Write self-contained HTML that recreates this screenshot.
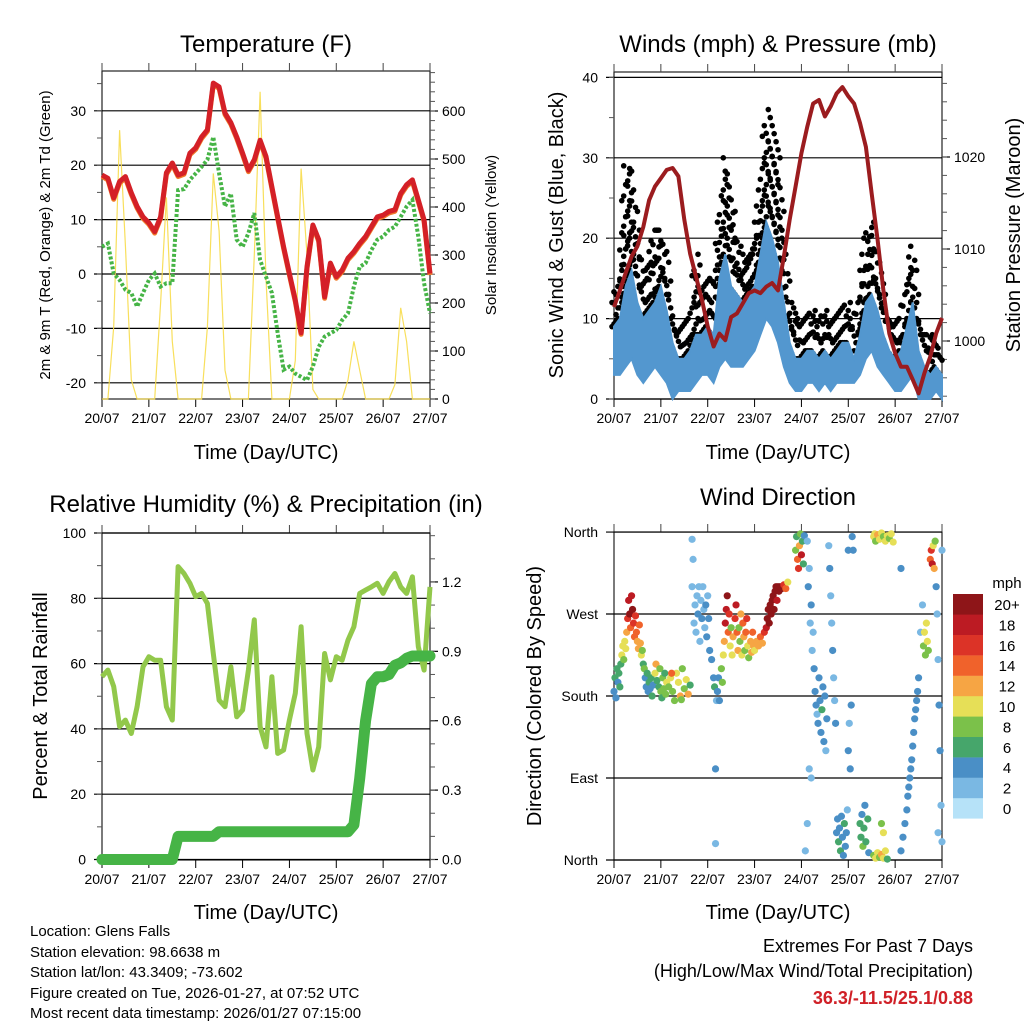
<!DOCTYPE html>
<html><head><meta charset="utf-8">
<style>
html,body{margin:0;padding:0;background:#fff;}
svg{display:block;font-family:"Liberation Sans",sans-serif;}
</style></head>
<body>
<svg id="chart" width="1024" height="1024" viewBox="0 0 1024 1024" xmlns="http://www.w3.org/2000/svg">
<rect x="0" y="0" width="1024" height="1024" fill="#fff"/>
<text x="266" y="52" font-size="24" text-anchor="middle">Temperature (F)</text>
<text x="778" y="52" font-size="24" text-anchor="middle">Winds (mph) &amp; Pressure (mb)</text>
<text x="266" y="512" font-size="24" text-anchor="middle">Relative Humidity (%) &amp; Precipitation (in)</text>
<text x="778" y="505" font-size="24" text-anchor="middle">Wind Direction</text>
<text x="266" y="459" font-size="20" text-anchor="middle">Time (Day/UTC)</text>
<text x="778" y="459" font-size="20" text-anchor="middle">Time (Day/UTC)</text>
<text x="266" y="919" font-size="20" text-anchor="middle">Time (Day/UTC)</text>
<text x="778" y="919" font-size="20" text-anchor="middle">Time (Day/UTC)</text>
<text transform="translate(50,235) rotate(-90)" font-size="15" text-anchor="middle">2m &amp; 9m T (Red, Orange) &amp; 2m Td (Green)</text>
<text transform="translate(496,235) rotate(-90)" font-size="15" text-anchor="middle">Solar Insolation (Yellow)</text>
<text transform="translate(563,235) rotate(-90)" font-size="20" text-anchor="middle">Sonic Wind &amp; Gust (Blue, Black)</text>
<text transform="translate(1020,235) rotate(-90)" font-size="20" text-anchor="middle">Station Pressure (Maroon)</text>
<text transform="translate(47,696) rotate(-90)" font-size="20" text-anchor="middle">Percent &amp; Total Rainfall</text>
<text transform="translate(541,696) rotate(-90)" font-size="20" text-anchor="middle">Direction (Colored By Speed)</text>
<g font-size="15">
<text x="30" y="936">Location: Glens Falls</text>
<text x="30" y="957">Station elevation: 98.6638 m</text>
<text x="30" y="977">Station lat/lon: 43.3409; -73.602</text>
<text x="30" y="998">Figure created on Tue, 2026-01-27, at 07:52 UTC</text>
<text x="30" y="1018">Most recent data timestamp: 2026/01/27 07:15:00</text>
</g>
<g text-anchor="end">
<text x="973" y="952" font-size="18">Extremes For Past 7 Days</text>
<text x="973" y="977" font-size="18">(High/Low/Max Wind/Total Precipitation)</text>
<text x="973" y="1004" font-size="18" font-weight="bold" fill="#d02027">36.3/-11.5/25.1/0.88</text>
</g>
<text x="1007" y="588" font-size="15" text-anchor="middle">mph</text>
</svg>
<script>
// ===== data (3-hour samples, hours 0..168) =====
const dayLabels = ['20/07','21/07','22/07','23/07','24/07','25/07','26/07','27/07'];
const sampleHours = [0,3,6,9,12,15,18,21,24,27,30,33,36,39,42,45,48,51,54,57,60,63,66,69,72,75,78,81,84,87,90,93,96,99,102,105,108,111,114,117,120,123,126,129,132,135,138,141,144,147,150,153,156,159,162,165,168];
const temp2m = [18.2,17.6,14,17,17.9,14.9,12.4,10.5,9.4,7.8,10.5,18.6,20.4,18.2,18.6,22.2,23.2,25.2,26.5,35.1,34.4,29.6,27.8,25.2,22.2,19.1,21,24.6,21.6,16,10.5,5,0.1,-4.8,-10.8,1.3,9,6.3,-4.2,2,-0.5,0.7,2.9,4.1,5.6,6.9,8.7,10.5,10.8,11.5,11.8,14.8,16.4,17.3,13.6,9.9,0.1];
const dewpoint = [5,5.6,0.1,-1.1,-2.9,-3.5,-6,-3.5,-1.1,0.1,-2.3,-1.7,-1.7,15.4,15.6,17.3,18.5,19.7,21,25.2,18.5,12.4,14.8,6.3,5,7.5,11.2,2.6,-0.5,-3.5,-10.9,-17.6,-17,-18.3,-18.9,-19.5,-17,-13.4,-11.5,-10.9,-10.3,-8.5,-7.2,-2.3,1.3,2,4.4,6.3,6.9,8.1,8.7,10.5,12.4,13.6,6.9,-1.7,-7.2];
const solar = [0,0,150,560,320,40,0,0,0,0,200,420,120,0,0,0,0,0,150,470,350,60,0,0,0,0,300,640,250,0,0,0,0,80,480,300,20,0,0,0,0,0,40,120,60,0,0,0,0,0,30,190,120,0,0,0,0];
const windLo = [3,3,4,5,3,2,3,4,3,2,0,1,1,1,2,3,3,2,4,5,4,4,4,5,6,8,10,9,7,4,2,1,1,2,2,1,2,1,2,2,2,2,3,5,6,4,3,2,1,1,2,3,0,0,0,1,0];
const windHi = [9,10,14,16,12,10,11,12,14,11,7,5,5,6,8,8,9,8,15,18,14,13,12,13,14,18,22,20,17,12,7,5,5,6,6,5,6,5,6,7,7,5,8,12,13,11,8,6,5,6,9,12,6,4,3,4,3];
const gustHi = [12,16,29,28,21,16,17,21,21,17,10,8,9,10,18,14,15,14,22,30,25,20,17,18,20,26,36,33,30,20,12,10,9,10,11,9,11,9,10,11,12,9,14,20,22,17,13,10,9,10,15,19,10,8,8,7,6];
const pressure = [1003.7,1005.5,1007.4,1009.2,1010.3,1012.4,1015.3,1016.8,1017.7,1018.6,1018.8,1017.9,1013.2,1009.5,1007,1004.5,1001.6,999.4,1000.8,1000.1,1002.6,1003,1004.1,1005.2,1005.5,1005.2,1005.9,1006.3,1005.5,1009.2,1013.2,1016.8,1020.4,1023.3,1025.8,1026.2,1024.4,1025.5,1026.9,1027.6,1026.6,1025.8,1023.7,1021.1,1016,1011,1005.5,1000.8,998.7,997.2,997.2,995.8,994.3,996.5,998.3,1000.8,1002.5];
const humidity = [56,58,53,40.7,42.7,38.6,46.8,59,62.1,61,61,46.8,42.7,89.7,87.6,84.6,80.5,81.5,78.4,63.1,48.8,46.8,59,43.7,45.8,58,73.4,40.7,34.5,56,32.5,33.5,42.7,50.9,71.3,38.6,27.4,34.5,63.1,55,62.1,61,67.2,71.3,81.5,82.5,83.5,84.6,81.5,85.1,87.6,83.5,81.5,86.6,65.2,58,83.5];
const precip = [0,0,0,0,0,0,0,0,0,0,0,0,0,0.1,0.1,0.1,0.1,0.1,0.1,0.1,0.12,0.12,0.12,0.12,0.12,0.12,0.12,0.12,0.12,0.12,0.12,0.12,0.12,0.12,0.12,0.12,0.12,0.12,0.12,0.12,0.12,0.12,0.12,0.15,0.35,0.6,0.76,0.79,0.79,0.8,0.84,0.85,0.87,0.88,0.88,0.88,0.88];
// wind direction observations (parallel arrays, one line per cluster)
const dirHours = [
0,0.5,1,1.5,2,2.5,3,3.5,4,4.5,5,5.5,6,
6.5,7,7.5,8,8.5,9,9.5,10,10.5,11,11.5,12,12.5,13,13.5,14,14.5,
15,15.5,16,16.5,17,17.5,18,18.5,19,19.5,20,21,21.5,22,23,23.5,24,24.5,25,25.5,26,26.5,27,
28,29,30,31,32,33,34,35,36,37,38,39,29.5,34.5,
40,40.5,41,41.5,42,42.5,43,43.5,44,44.5,45,45.5,46,46.5,47,47.5,48,48.5,49,50,
40,52,52,51,51.5,52.5,53,53.5,54,
55,55.5,56,56.5,57,57.5,58,58.5,59,59.5,60,60.5,61,62,62.5,63,
63.5,64,64.5,65,65.5,66,66.5,67,67.5,68,68.5,69,70,70.5,71,71.5,72,73,74,75,76,
77,78,78.5,79,79.5,80,80.5,81,81.5,82,82.5,83,83.5,84,84.5,85,86,87,88,89,
93,93.5,94,94.5,95,95.5,96,96.5,97,97.5,
99,99.5,100,100.5,101,101.5,102,102.5,103,103.5,104,104.5,105,105.5,106,106.5,107,107.5,108,108.5,109,100,101,98,99,
110,110.5,111,111.5,112,112.5,113,113.5,114,114.5,115,115.5,116,116.5,117,117.5,118,118.5,119,119.5,120,120.5,121,121.5,122,122.5,120,
126,126.5,127,127.5,128,128.5,129,130,130.5,
133,133.5,134,135,136,137,138,139,140,141,142,143,133,134,135,136,137,138,139,140,137,138,
148,149,150,150.5,151,151.5,152,152.5,153,153.5,154,154.5,155,155.5,156,147,147,157,158,
158.5,159,159.5,160,160.5,161,
162,162.5,163,163.5,164,164.5,
165,165.5,166,166.5,167,167.5,168,168,166];
const dirDegrees = [
185,200,178,210,195,205,190,215,225,235,220,240,232,
250,265,285,270,255,290,275,260,245,268,250,240,232,258,238,225,230,
215,210,200,190,205,185,195,188,200,180,192,205,215,197,190,210,185,178,200,188,205,182,195,
190,200,185,175,205,195,180,210,188,198,182,192,205,176,
300,330,260,280,250,290,270,300,240,285,265,300,275,255,280,245,290,265,230,220,
352,100,18,200,190,175,185,200,175,
210,195,225,240,260,275,290,250,270,235,255,225,245,265,280,250,
230,255,240,270,225,260,245,230,250,265,235,222,240,228,250,235,230,240,235,245,238,
250,255,265,275,260,280,270,285,290,275,295,300,285,300,295,300,298,302,298,305,
340,355,330,320,345,358,335,350,325,356,
350,300,320,260,280,230,250,210,185,170,160,150,200,175,140,165,190,130,180,120,155,100,90,10,40,
345,320,290,260,230,200,175,150,30,45,20,35,10,48,25,5,40,15,30,55,120,150,100,170,355,340,340,
40,25,50,15,35,60,20,45,8,
355,358,350,357,352,359,355,350,356,353,358,349,5,2,8,3,6,2,10,1,40,30,
25,40,55,70,80,90,100,110,125,140,155,165,175,185,200,10,320,250,280,
235,250,225,260,240,230,
330,340,325,345,320,350,
300,270,220,170,120,60,20,340,30];
const dirSpeeds = [
4,5,4,6,4,5,6,6,9,10,8,10,9,
12,16,18,19,14,17,20,16,13,15,13,12,12,14,11,9,8,
6,8,4,4,5,4,6,4,5,6,4,10,12,5,6,7,7,6,8,7,6,8,9,
8,10,7,8,9,10,12,8,7,9,11,6,13,7,
1,1,2,2,1,2,3,2,1,2,3,2,2,2,4,3,2,3,4,4,
1,3,1,4,5,2,4,4,3,
7,8,10,12,17,18,19,14,16,10,8,10,12,16,18,14,
11,7,8,12,9,14,12,7,13,15,10,8,11,12,14,12,10,12,11,13,12,
15,18,21,22,20,21,22,19,22,21,20,22,17,21,22,20,19,16,14,10,
8,6,14,16,12,7,18,6,5,4,
2,3,2,2,3,2,2,3,4,3,2,4,3,4,3,5,4,3,4,2,4,2,2,2,2,
2,3,2,2,3,2,2,3,4,3,5,4,5,3,4,3,5,4,3,2,3,2,4,3,4,4,3,
5,6,4,7,5,3,6,5,4,
9,10,8,11,10,9,8,10,9,8,10,9,8,9,10,8,11,9,10,6,8,10,
4,3,4,3,4,4,3,4,3,4,3,4,3,4,3,3,3,2,2,
8,10,8,9,10,7,
14,16,18,10,12,8,
3,2,2,4,3,2,2,2,2];
const speedColors = ['#b6e2f8','#7ab8e3','#4a8fc6','#46a66b','#7bc14a','#e6df57','#f6a544','#f0622b','#dc3327','#bc1b23','#8e1518'];
const speedLabels = ['0','2','4','6','8','10','12','14','16','18','20+'];
const tempTicks = [-20,-10,0,10,20,30];
const solarTicks = [0,100,200,300,400,500,600];
const windTicks = [0,10,20,30,40];
const pressTicks = [1000,1010,1020];
const rhTicks = [0,20,40,60,80,100];
const precipTicks = [0,0.3,0.6,0.9,1.2];
const dirTicks = [0,90,180,270,360];
const dirTickLabels = ['North','East','South','West','North'];

// ===== rendering =====
const svg=document.getElementById('chart');
const NS='http://www.w3.org/2000/svg';
function mk(tag,attrs,parent){const e=document.createElementNS(NS,tag);for(const k in attrs)e.setAttribute(k,attrs[k]);(parent||svg).appendChild(e);return e;}
const P1={x0:102,x1:430,y0:71,y1:399}, P2={x0:614,x1:942,y0:72,y1:399}, P3={x0:102,x1:430,y0:533,y1:860}, P4={x0:614,x1:942,y0:532,y1:860};
function xT(p,h){return p.x0+h*(p.x1-p.x0)/168;}
const yTemp=v=>274-v*5.44, ySolar=v=>399-v*0.48;
const yWind=v=>399-v*8.04, yPress=v=>341-(v-1000)*9.2;
const yRH=v=>859.5-v*3.265, yPrecip=v=>859.5-v*231.3;
const yDir=v=>860-v*0.911;

function frame(p,name){
  const g=mk('g',{});
  
  
  for(let d=0;d<8;d++){
    const x=xT(p,d*24);
    const tb=mk('line',{x1:x,x2:x,y1:p.y1,y2:p.y1+8,stroke:'#000','stroke-width':1},g);
    
    
    const tt=mk('line',{x1:x,x2:x,y1:p.y0-8,y2:p.y0,stroke:'#444','stroke-width':1},g);
    
    
    const t=mk('text',{x:x,y:p.y1+24,'font-size':14,'text-anchor':'middle'},g);
    t.textContent=dayLabels[d];
    
    
  }
}
function box(p,name){
  const r=mk('rect',{x:p.x0,y:p.y0,width:p.x1-p.x0,height:p.y1-p.y0,fill:'none',stroke:'#222','stroke-width':1.2});
  
  
}
function leftAxis(p,ticks,labels,yf,grid,minorStep,name){
  const g=mk('g',{});
  
  
  ticks.forEach((v,i)=>{
    const y=yf(v);
    const l=mk('line',{x1:p.x0-8,x2:grid?p.x1:p.x0,y1:y,y2:y,stroke:'#000','stroke-width':1.2},g);
    
    
    const t=mk('text',{x:p.x0-16,y:y+5,'font-size':14,'text-anchor':'end'},g);
    t.textContent=labels[i];
    
    
  });
  if(minorStep){
    for(let v=ticks[0]-minorStep*4;v<=ticks[ticks.length-1]+minorStep*4;v+=minorStep){
      const y=yf(v); if(y<p.y0-0.5||y>p.y1+0.5)continue;
      const l=mk('line',{x1:p.x0-5,x2:p.x0,y1:y,y2:y,stroke:'#555','stroke-width':1},g);
      
      
    }
  }
}
function rightAxis(p,ticks,labels,yf,minorStep,name){
  const g=mk('g',{});
  
  
  ticks.forEach((v,i)=>{
    const y=yf(v);
    const l=mk('line',{x1:p.x1,x2:p.x1+8,y1:y,y2:y,stroke:'#000','stroke-width':1.2},g);
    
    
    const t=mk('text',{x:p.x1+12,y:y+5,'font-size':14},g);
    t.textContent=labels[i];
    
    
  });
  for(let v=ticks[0]-minorStep*10;v<=ticks[ticks.length-1]+minorStep*10;v+=minorStep){
    const y=yf(v); if(y<p.y0-0.5||y>p.y1+0.5)continue;
    const l=mk('line',{x1:p.x1,x2:p.x1+5,y1:y,y2:y,stroke:'#555','stroke-width':1},g);
    
    
  }
}
function pathOf(p,arr,yf){return arr.map((v,i)=>(i?'L':'M')+xT(p,sampleHours[i]).toFixed(1)+','+yf(v).toFixed(1)).join('');}

// ---- Panel 1: temperature ----
box(P1,'temperature');
frame(P1,'temperature');
leftAxis(P1,tempTicks,tempTicks.map(String),yTemp,true,5,'temp-y-axis');
rightAxis(P1,solarTicks,solarTicks.map(String),ySolar,20,'solar-y-axis');
const solarLine=mk('path',{d:pathOf(P1,solar,ySolar),fill:'none',stroke:'#f7dc4a','stroke-width':1.2,'stroke-opacity':0.9});


const t9=mk('path',{d:pathOf(P1,temp2m,v=>yTemp(v)+1.5),fill:'none',stroke:'#f07a2a','stroke-width':5,'stroke-linejoin':'round'});


const t2=mk('path',{d:pathOf(P1,temp2m,yTemp),fill:'none',stroke:'#d42027','stroke-width':5,'stroke-linejoin':'round'});


const td=mk('path',{d:pathOf(P1,dewpoint,yTemp),fill:'none',stroke:'#46b446','stroke-width':4,'stroke-dasharray':'3 2'});



// ---- Panel 2: winds ----
box(P2,'winds');
frame(P2,'winds');
leftAxis(P2,windTicks,windTicks.map(String),yWind,true,5,'wind-y-axis');
rightAxis(P2,pressTicks,pressTicks.map(String),yPress,2,'pressure-y-axis');
const gg=mk('g',{fill:'#000'});


for(let i=0;i<sampleHours.length-1;i++){
  for(let s=0;s<3;s++){
    const f=s/3;
    const h=sampleHours[i]+f*(sampleHours[i+1]-sampleHours[i]);
    const hi=windHi[i]+f*(windHi[i+1]-windHi[i]);
    const gu=gustHi[i]+f*(gustHi[i+1]-gustHi[i]);
    const n=Math.max(1,Math.round((gu-hi)/1.9));
    for(let k=0;k<=n;k++){
      const v=hi+(gu-hi)*k/n;
      const c=mk('circle',{cx:xT(P2,h)+((k%2)?2:-2),cy:yWind(v),r:2.8},gg);
      
      
    }
  }
}
let wd='';
sampleHours.forEach((h,i)=>{wd+=(i?'L':'M')+xT(P2,h).toFixed(1)+','+yWind(windHi[i]).toFixed(1);});
for(let i=sampleHours.length-1;i>=0;i--){wd+='L'+xT(P2,sampleHours[i]).toFixed(1)+','+yWind(windLo[i]).toFixed(1);}
const wa=mk('path',{d:wd+'Z',fill:'#5397cf',stroke:'#5397cf','stroke-width':2});


const pl=mk('path',{d:pathOf(P2,pressure,yPress),fill:'none',stroke:'#9b1c1f','stroke-width':4,'stroke-linejoin':'round'});



// ---- Panel 3: humidity ----
box(P3,'humidity');
frame(P3,'humidity');
leftAxis(P3,rhTicks,rhTicks.map(String),yRH,true,10,'humidity-y-axis');
rightAxis(P3,precipTicks,precipTicks.map(v=>v.toFixed(1)),yPrecip,0.1,'precip-y-axis');
const rh=mk('path',{d:pathOf(P3,humidity,yRH),fill:'none',stroke:'#92c84b','stroke-width':5,'stroke-linejoin':'round'});


const pr=mk('path',{d:pathOf(P3,precip,yPrecip),fill:'none',stroke:'#46b446','stroke-width':11,'stroke-linejoin':'round','stroke-linecap':'round'});



// ---- Panel 4: direction ----
box(P4,'direction');
frame(P4,'direction');
leftAxis(P4,dirTicks,dirTickLabels,yDir,true,0,'direction-y-axis');
const dg=mk('g',{});


dirHours.forEach((h,i)=>{
  const idx=Math.max(0,Math.min(10,Math.round((dirSpeeds[i]||0)/2)));
  const c=mk('circle',{cx:xT(P4,h),cy:yDir(dirDegrees[i]),r:3.6,fill:speedColors[idx]},dg);
  
  
});
// colorbar
const cb=mk('g',{});


for(let i=0;i<11;i++){
  const y=594+(10-i)*20.4;
  const r=mk('rect',{x:953,y:y,width:30,height:20.6,fill:speedColors[i]},cb);
  
  
  const t=mk('text',{x:1007,y:y+16,'font-size':15,'text-anchor':'middle'},cb);
  t.textContent=speedLabels[i];
  
  
}
</script>
</body></html>
